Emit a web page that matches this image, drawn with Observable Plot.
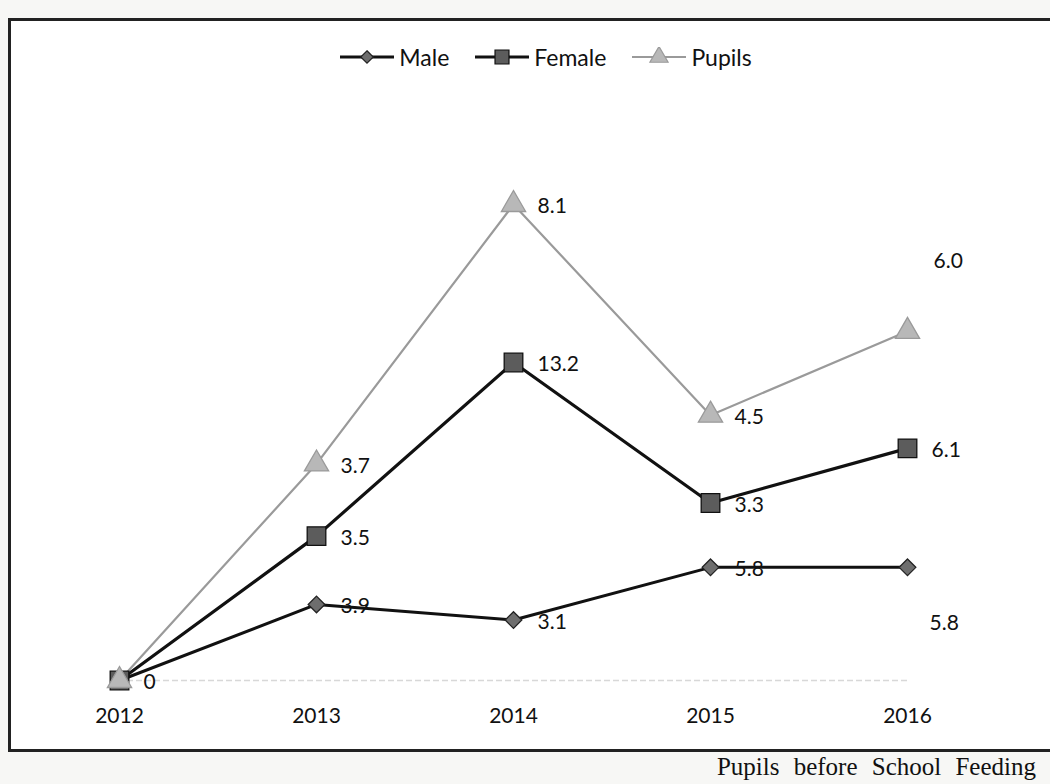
<!DOCTYPE html>
<html>
<head>
<meta charset="utf-8">
<script src="https://cdn.jsdelivr.net/npm/d3@7"></script>
<script src="https://cdn.jsdelivr.net/npm/@observablehq/plot@0.6"></script>
<style>
  html, body { margin: 0; padding: 0; background: #f7f7f5; }
  #page { position: relative; width: 1050px; height: 784px; overflow: hidden; background: #f7f7f5; font-family: Lato, "Open Sans", sans-serif; }
  #frame { position: absolute; left: 8px; top: 18px; width: 1045px; height: 734px; border-left: 3px solid #222; border-top: 3px solid #222; border-bottom: 3px solid #222; box-sizing: border-box; background: #fff; }
  #legend { position: absolute; top: 43px; left: 0; width: 1050px; display: flex; justify-content: center; gap: 24px; font-size: 23px; color: #111; padding-left: 40px; box-sizing: border-box; }
  #legend .item { display: flex; align-items: center; gap: 3px; }
  #chart { position: absolute; left: 8px; top: 80px; }
  #caption { position: absolute; right: 14px; top: 753px; font-family: "Liberation Serif", serif; font-size: 25px; line-height: 28px; color: #111; white-space: nowrap; word-spacing: 8px; }
</style>
</head>
<body>
<div id="page">
  <div id="frame"></div>
  <div id="legend"></div>
  <div id="chart"></div>
  <div id="caption">Pupils before School Feeding</div>
</div>
<script>
const years = ["2012", "2013", "2014", "2015", "2016"];
const seriesNames = ["Male", "Female", "Pupils"];
const male = [0, 3.9, 3.1, 5.8, 5.8];
const female = [0, 3.5, 13.2, 3.3, 6.1];
const pupils = [0, 3.7, 8.1, 4.5, 6.0];

const valuesBySeries = {Male: male, Female: female, Pupils: pupils};
const styles = {
  Male:   {line: "#111", width: 3, symbol: "diamond2", r: 7.5, fill: "#6e6e6e", stroke: "#222"},
  Female: {line: "#111", width: 3.2, symbol: "square", r: 10.5, fill: "#5c5c5c", stroke: "#111"},
  Pupils: {line: "#9a9a9a", width: 2.2, symbol: "triangle", r: 9, fill: "#b8b8b8", stroke: "#9a9a9a"}
};

// stacked rows (each series drawn on top of the previous ones)
const rows = [];
years.forEach((yr, i) => {
  let cum = 0;
  seriesNames.forEach(s => {
    const v = valuesBySeries[s][i];
    cum += v;
    rows.push({year: yr, series: s, value: v, top: cum});
  });
});

// legend
const legend = document.getElementById("legend");
seriesNames.forEach(s => {
  const st = styles[s];
  const item = document.createElement("div");
  item.className = "item";
  const icon = d3.create("svg").attr("width", 58).attr("height", 20);
  icon.append("line").attr("x1", 2).attr("x2", 56).attr("y1", 10).attr("y2", 10)
    .attr("stroke", st.line).attr("stroke-width", st.width);
  const sym = {diamond2: d3.symbolDiamond2, square: d3.symbolSquare, triangle: d3.symbolTriangle}[st.symbol];
  icon.append("path").attr("transform", "translate(29,10)")
    .attr("d", d3.symbol(sym, Math.PI * (st.r * 0.75) ** 2)())
    .attr("fill", st.fill).attr("stroke", st.stroke).attr("stroke-width", 1.2);
  item.appendChild(icon.node());
  const label = document.createElement("span");
  label.textContent = s;
  item.appendChild(label);
  legend.appendChild(item);
});

const isSpecial = d => d.year === "2016" && (d.series === "Male" || d.series === "Pupils");
const labelRows = rows.filter(d => !(d.year === "2012" && d.series !== "Male"));

const marks = [
  Plot.ruleY([0], {stroke: "#d8d8d8", strokeWidth: 1.5, strokeDasharray: "6,3"})
];
seriesNames.forEach(s => {
  const st = styles[s];
  const data = rows.filter(d => d.series === s);
  marks.push(Plot.line(data, {x: "year", y: "top", stroke: st.line, strokeWidth: st.width}));
});
seriesNames.forEach(s => {
  const st = styles[s];
  const data = rows.filter(d => d.series === s);
  marks.push(Plot.dot(data, {x: "year", y: "top", symbol: () => st.symbol, r: st.r, fill: st.fill, stroke: st.stroke, strokeWidth: 1.3}));
});
marks.push(
  Plot.text(labelRows.filter(d => !isSpecial(d)), {
    x: "year", y: "top", text: d => d.year === "2012" ? "0" : d.value.toFixed(1),
    textAnchor: "start", dx: 24, dy: 2, fontSize: 21, fill: "#111"
  }),
  Plot.text(labelRows.filter(d => d.year === "2016" && d.series === "Male"), {
    x: "year", y: "top", text: d => d.value.toFixed(1),
    textAnchor: "start", dx: 22, dy: 56, fontSize: 21, fill: "#111"
  }),
  Plot.text(labelRows.filter(d => d.year === "2016" && d.series === "Pupils"), {
    x: "year", y: "top", text: d => d.value.toFixed(1),
    textAnchor: "start", dx: 26, dy: -70, fontSize: 21, fill: "#111"
  })
);

const chart = Plot.plot({
  width: 1035,
  height: 660,
  marginLeft: 110,
  marginRight: 136,
  marginTop: 124,
  marginBottom: 60,
  style: {fontFamily: "Lato, 'Open Sans', sans-serif", fontSize: "21px", color: "#111", background: "transparent"},
  x: {type: "point", domain: years, padding: 0, label: null, tickSize: 0, tickPadding: 28},
  y: {domain: [0, 24.4], axis: null},
  marks
});
document.getElementById("chart").appendChild(chart);
</script>
</body>
</html>
